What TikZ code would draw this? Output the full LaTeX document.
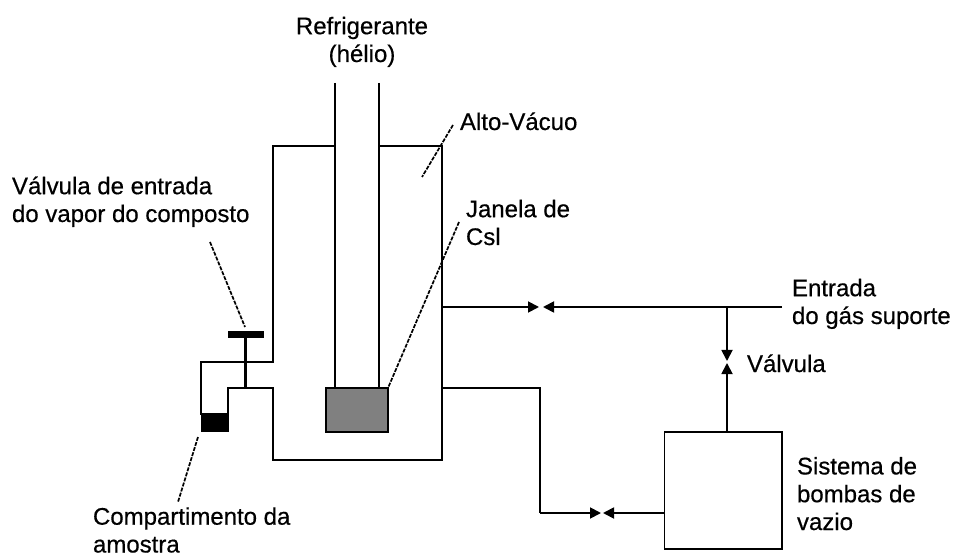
\documentclass[tikz,border=0pt]{standalone}
\usepackage{fontspec}
\setmainfont{Liberation Sans}[RawFeature={embolden=0.5}]
\usetikzlibrary{arrows.meta}
\tikzset{
  wall/.style={draw=black,line width=1.8pt,line cap=butt,line join=miter},
  leader/.style={draw=black,line width=1.7pt,dash pattern=on 4pt off 1.3pt},
  valvetip/.style={wall,-{Triangle[length=11pt,width=11pt,fill=black]}},
  lab/.style={inner sep=0pt,outer sep=0pt,align=left,anchor=base west,font=\fontsize{24}{27.8}\selectfont,text=black}
}
\begin{document}
\begin{tikzpicture}[x=1pt,y=-1pt]
\useasboundingbox (0,0) rectangle (954,556);
% named points of the chamber
\coordinate (c1) at (335,146); \coordinate (c2) at (273,146);
\coordinate (c3) at (273,362); \coordinate (c4) at (201,362);
\coordinate (c5) at (201,414); \coordinate (c6) at (228,414);
\coordinate (c7) at (228,388); \coordinate (c8) at (273,388);
\coordinate (c9) at (273,460); \coordinate (c10) at (442,460);
\coordinate (c11) at (442,146); \coordinate (c12) at (379,146);
\coordinate (t1) at (335,83); \coordinate (t2) at (379,83);
\coordinate (s1) at (442,307); \coordinate (s2) at (782,307);
\coordinate (s3) at (727,307); \coordinate (s4) at (442,388);
\coordinate (s5) at (540,388); \coordinate (s6) at (540,513);
\coordinate (v1) at (539,307); \coordinate (v2) at (543,307);
\coordinate (v3) at (727,361); \coordinate (v4) at (727,363);
\coordinate (v5) at (601,513); \coordinate (v6) at (603,513);
% parts
\node[wall,outer sep=0pt,minimum width=62pt,minimum height=44pt,inner sep=0pt,anchor=north west,fill=black!50] (win) at (326,388) {};
\node[wall,outer sep=0pt,minimum width=117.5pt,minimum height=117pt,inner sep=0pt,anchor=north west] (pump) at (664.5,432) {};
\node[fill=black,outer sep=0pt,minimum width=28pt,minimum height=18pt,inner sep=0pt,anchor=north west] (samp) at (200.5,414) {};
\node[fill=black,outer sep=0pt,minimum width=36pt,minimum height=7pt,inner sep=0pt] (vbar) at (246,334.5) {};
\coordinate (vfoot) at (245.5,388);
\draw[wall] (c1) -- (c2) -- (c3) -- (c4) -- (c5) -- (c6) -- (c7) -- (c8) -- (c9) -- (c10) -- (c11) -- (c12);
\draw[wall] (t1) -- (c1) -- (win.north -| c1);
\draw[wall] (t2) -- (c12) -- (win.north -| c12);
\draw[draw=black,line width=3.4pt] (vbar.south -| vfoot) -- (vfoot);
% gas lines
\draw[valvetip] (s1) -- (v1);
\draw[valvetip] (s2) -- (v2);
\draw[valvetip] (s3) -- (v3);
\draw[valvetip] (pump.north -| v4) -- (v4);
\draw[wall] (s4) -- (s5) -- (s6);
\draw[valvetip] (s6) -- (v5);
\draw[valvetip] (pump.west |- v6) -- (v6);
% labels
\node[lab,align=center,anchor=base] (ref) at (362,62) {Refrigerante\\(hélio)};
\node[lab] (alto) at (460,130) {Alto-Vácuo};
\node[lab] (jan) at (466,245) {Janela de\\Csl};
\node[lab] (vent) at (12,222) {Válvula de entrada\\do vapor do composto};
\node[lab] (comp) at (93,552.5) {Compartimento da\\amostra};
\node[lab] (ent) at (792,324) {Entrada\\do gás suporte};
\node[lab] (val) at (747,372) {Válvula};
\node[lab] (sis) at (797,530) {Sistema de\\bombas de\\vazio};
% leaders
\coordinate (a1) at (453,125); \coordinate (a2) at (422,177);
\coordinate (j1) at (459,222); \coordinate (j2) at (388,388);
\coordinate (b1) at (210,242); \coordinate (b2) at (245,327);
\coordinate (d1) at (198,437); \coordinate (d2) at (178,502);
\draw[leader] (a1) -- (a2);
\draw[leader] (j1) -- (j2);
\draw[leader] (b1) -- (b2);
\draw[leader] (d1) -- (d2);
\end{tikzpicture}
\end{document}
